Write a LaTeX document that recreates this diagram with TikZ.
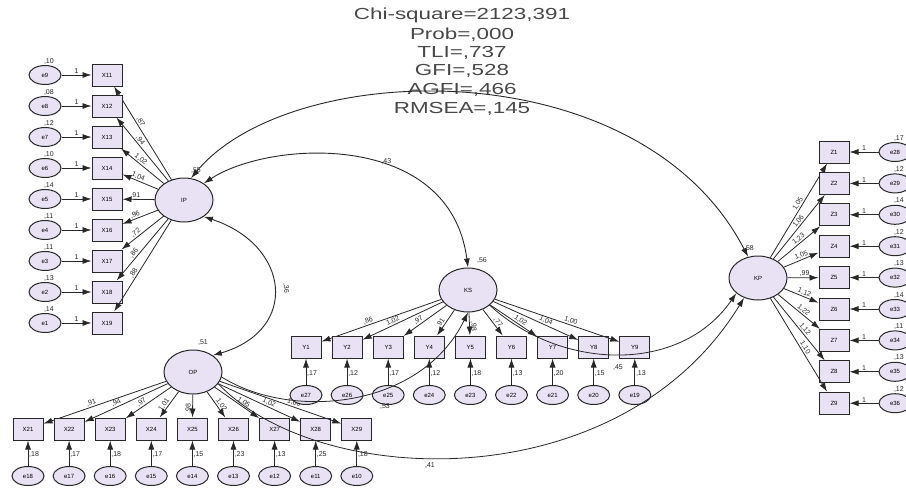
\documentclass[tikz,border=0pt]{standalone}
\usepackage{fontspec}
\setmainfont{Liberation Sans}
\usetikzlibrary{arrows.meta,shapes.geometric}

\definecolor{lila}{RGB}{232,226,244}
\definecolor{inchiostro}{RGB}{40,40,40}

\tikzset{
  obs/.style={draw=inchiostro, line width=1pt, fill=lila, minimum width=30pt,
    minimum height=22pt, inner sep=0pt, font=\fontsize{6}{7}\selectfont},
  lat/.style={ellipse, draw=inchiostro, line width=1pt, fill=lila, minimum width=58pt,
    minimum height=44pt, inner sep=0pt, font=\fontsize{6}{7}\selectfont},
  err/.style={ellipse, draw=inchiostro, line width=1pt, fill=lila, minimum width=32pt,
    minimum height=19pt, inner sep=0pt, font=\fontsize{6}{7}\selectfont},
  freccia/.style={-{Latex[length=9pt,width=6pt]}, line width=0.8pt, draw=inchiostro},
  doppia/.style={{Latex[length=9pt,width=6pt]}-{Latex[length=9pt,width=6pt]},
    line width=0.9pt, draw=inchiostro},
  stima/.style={font=\fontsize{7}{8}\selectfont, inner sep=0.8pt, text=inchiostro},
  testo/.style={font=\fontsize{16}{18}\selectfont, xscale=1.4, text=inchiostro!85}
}

\begin{document}
\begin{tikzpicture}[x=1pt, y=-1pt]
  \useasboundingbox (0,0) rectangle (906,488);

  % --- indici di adattamento ---
  \node[testo] (chi) at (462,15) {Chi-square=2123,391};
  \node[testo] (prob) at (462,35) {Prob=,000};
  \node[testo] (tli) at (462,53) {TLI=,737};
  \node[testo] (gfi) at (462,71) {GFI=,528};
  \node[testo] (agfi) at (462,90) {AGFI=,466};
  \node[testo] (rmsea) at (462,109) {RMSEA=,145};

  % --- variabili latenti ---
  \node[lat] (IP) at (184,200) {IP};
  \node[lat] (KS) at (468,290) {KS};
  \node[lat] (OP) at (193,372) {OP};
  \node[lat] (KP) at (758,278) {KP};

  \node[stima] at (196,171) {,55};
  \node[stima] at (482,260) {,56};
  \node[stima] at (203,343) {,51};
  \node[stima] at (749,248) {,58};

  % --- blocco IP: X11 ... X19 ---
  \foreach \n/\ee/\var/\w [count=\k from 0] in {11/9/{,10}/{,87}, 12/8/{,08}/{,94},
      13/7/{,12}/{1,02}, 14/6/{,10}/{1,04}, 15/5/{,14}/{,91}, 16/4/{,11}/{,96},
      17/3/{,11}/{,72}, 18/2/{,13}/{,86}, 19/1/{,14}/{,88}}{
    \node[obs] (X\n) at (107,{75+31*\k}) {X\n};
    \node[err] (e\ee) at (45,{75+31*\k}) {e\ee};
    \draw[freccia] (e\ee) -- node[stima, above] {1} (X\n);
    \node[stima, anchor=south west] at ([xshift=-2pt]e\ee.north) {\var};
    \draw[freccia] (IP) -- node[stima, sloped, above, pos=.6] {\w} (X\n);
  }

  % --- blocco OP: X21 ... X29 ---
  \foreach \n/\ee/\var/\w [count=\k from 0] in {21/18/{,18}/{,91}, 22/17/{,17}/{,94},
      23/16/{,18}/{,97}, 24/15/{,17}/{1,01}, 25/14/{,15}/{,98}, 26/13/{,23}/{1,02},
      27/12/{,13}/{1,05}, 28/11/{,25}/{1,02}, 29/10/{,18}/{1,00}}{
    \node[obs] (X\n) at ({28+41.1*\k},429) {X\n};
    \node[err] (e\ee) at ({28+41.1*\k},476) {e\ee};
    \draw[freccia] (e\ee) -- node[stima, right, pos=.45] {\var} (X\n);
    \draw[freccia] (OP) -- node[stima, sloped, above, pos=.6] {\w} (X\n);
  }

  % --- blocco KS: Y1 ... Y9 ---
  \foreach \n/\ee/\var/\w [count=\k from 0] in {1/27/{,17}/{,86}, 2/26/{,12}/{1,02},
      3/25/{,17}/{,97}, 4/24/{,12}/{,91}, 5/23/{,18}/{,98}, 6/22/{,13}/{,77},
      7/21/{,20}/{1,02}, 8/20/{,15}/{1,04}, 9/19/{,13}/{1,00}}{
    \node[obs] (Y\n) at ({306+41.1*\k},347) {Y\n};
    \node[err] (e\ee) at ({306+41.1*\k},395) {e\ee};
    \draw[freccia] (e\ee) -- node[stima, right, pos=.45] {\var} (Y\n);
    \draw[freccia] (KS) -- node[stima, sloped, above, pos=.6] {\w} (Y\n);
  }

  % --- blocco KP: Z1 ... Z9 ---
  \foreach \n/\ee/\var/\w [count=\k from 0] in {1/28/{,17}/{1,05}, 2/29/{,12}/{1,06},
      3/30/{,14}/{1,23}, 4/31/{,12}/{1,05}, 5/32/{,13}/{,99}, 6/33/{,14}/{1,12},
      7/34/{,11}/{1,22}, 8/35/{,13}/{1,12}, 9/36/{,12}/{1,10}}{
    \node[obs] (Z\n) at (834,{152+31.4*\k}) {Z\n};
    \node[err] (e\ee) at (895,{152+31.4*\k}) {e\ee};
    \draw[freccia] (e\ee) -- node[stima, above] {1} (Z\n);
    \node[stima, anchor=south west] at ([xshift=-2pt]e\ee.north) {\var};
    \draw[freccia] (KP) -- node[stima, sloped, above, pos=.55] {\w} (Z\n);
  }

  % --- relazioni strutturali ---
  \draw[doppia] (IP.72) .. controls (290,58) and (640,48) .. (KP.115);
  \draw[doppia] (IP.40) .. controls (270,140) and (450,130) .. (KS.north)
    node[stima, pos=.6, above] {,43};
  \draw[doppia] (IP.-40) .. controls (290,245) and (300,330) .. (OP.40);
  \node[stima, rotate=-85] at (286,288) {,36};
  \draw[freccia] (OP.-10) .. controls (290,420) and (420,410) .. (KS.south);
  \node[stima] at (385,406) {,53};
  \draw[freccia] (OP.-25) .. controls (320,490) and (620,500) .. (KP.-125);
  \node[stima] at (430,466) {,41};
  \draw[freccia] (KS.-35) .. controls (560,370) and (680,375) .. (KP.-145);
  \node[stima] at (618,368) {,45};
\end{tikzpicture}
\end{document}
